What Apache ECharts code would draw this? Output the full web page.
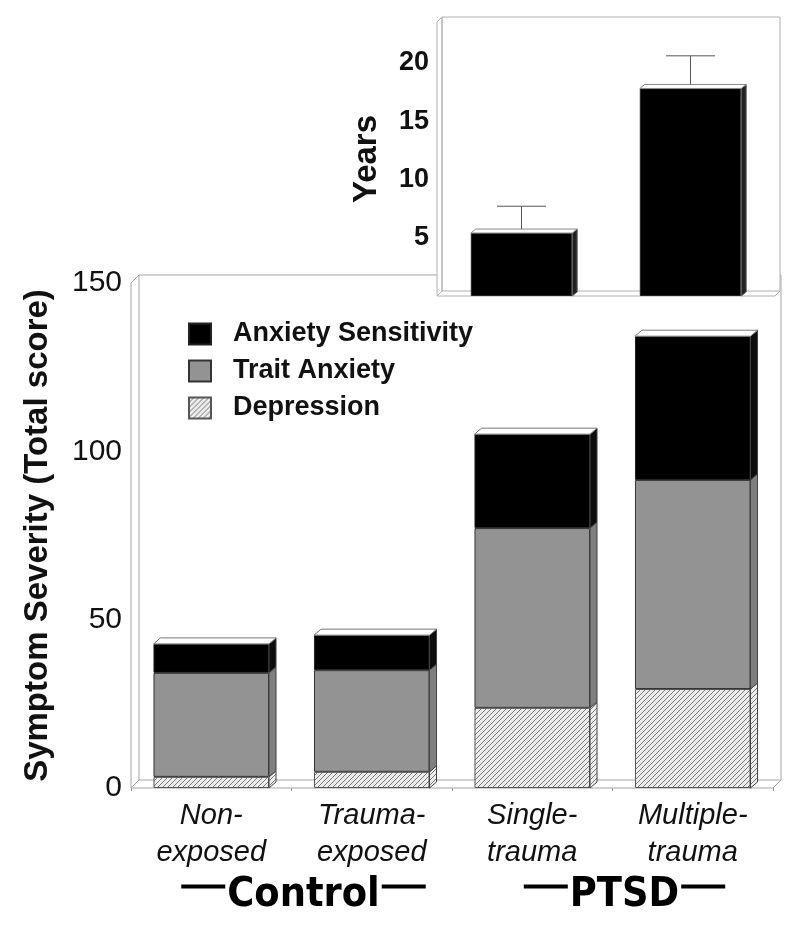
<!DOCTYPE html>
<html>
<head>
<meta charset="utf-8">
<script src="https://cdn.jsdelivr.net/npm/echarts@6/dist/echarts.min.js"></script>
<style>
  html, body { margin: 0; padding: 0; background: #fff; }
  #chart { width: 800px; height: 930px; }
</style>
</head>
<body>
<div id="chart"></div>
<script>
// main chart data (stack order bottom -> top)
const groups = ['Non-\nexposed', 'Trauma-\nexposed', 'Single-\ntrauma', 'Multiple-\ntrauma'];
const groupSets = ['Control', 'PTSD'];
const depression = [3.3, 4.8, 23.8, 29.4];
const traitAnxiety = [30.9, 30.2, 53.4, 62.1];
const anxietySensitivity = [8.6, 10.4, 27.9, 42.7];
const severityTicks = [0, 50, 100, 150];

// inset data
const ptsdGroups = ['Single-trauma', 'Multiple-trauma'];
const chronicityYears = [5.4, 17.8];
const chronicityErr = [2.3, 2.8];
const yearTicks = [5, 10, 15, 20];

const font = 'Liberation Sans, Arial, sans-serif';
const narrow = 'DejaVu Sans Condensed, Liberation Sans Narrow, Liberation Sans, sans-serif';

function makeHatch() {
  const c = document.createElement('canvas');
  c.width = 5; c.height = 5;
  const g = c.getContext('2d');
  g.fillStyle = '#ececec';
  g.fillRect(0, 0, 5, 5);
  g.strokeStyle = '#7a7a7a';
  g.lineWidth = 1;
  g.beginPath();
  g.moveTo(0, 5); g.lineTo(5, 0);
  g.moveTo(-1, 1); g.lineTo(1, -1);
  g.moveTo(4, 6); g.lineTo(6, 4);
  g.stroke();
  return c;
}
const hatchFill = { image: makeHatch(), repeat: 'repeat' };

// walls + floor of the big box
function mainBox(params, api) {
  const cs = params.coordSys;
  const x0 = cs.x, x1 = cs.x + cs.width, yT = cs.y, yB = cs.y + cs.height;
  const d = 8;
  const line = { fill: 'none', stroke: '#a5a5a5', lineWidth: 1 };
  return {
    type: 'group',
    children: [
      { type: 'polyline', shape: { points: [[x0 + d, yT - d], [x1 + d, yT - d], [x1 + d, yB - d]] }, style: line },
      { type: 'polygon', shape: { points: [[x0, yB], [x0, yT], [x0 + d, yT - d], [x0 + d, yB - d]] },
        style: { fill: '#fff', stroke: '#a5a5a5', lineWidth: 1 } },
      { type: 'polygon', shape: { points: [[x0, yB], [x0 + d, yB - d], [x1 + d, yB - d], [x1, yB]] },
        style: { fill: '#fff', stroke: '#a5a5a5', lineWidth: 1 } }
    ]
  };
}

// side + top faces of the stacked bars
function mainFaces(params, api) {
  const DX = 7, DY = 6;
  const i = api.value(0);
  const w = api.size([1, 0])[0] * 0.72;
  const xc = api.coord([i, 0])[0];
  const x0 = xc - w / 2, x1 = xc + w / 2;
  const fills = [hatchFill, '#7f7f7f', '#0d0d0d'];
  const children = [];
  let base = 0;
  for (let k = 0; k < 3; k++) {
    const v = api.value(k + 1);
    const yb = api.coord([i, base])[1];
    const yt = api.coord([i, base + v])[1];
    children.push({
      type: 'polygon',
      shape: { points: [[x1, yb], [x1 + DX, yb - DY], [x1 + DX, yt - DY], [x1, yt]] },
      style: { fill: fills[k], stroke: '#444', lineWidth: 1 }
    });
    base += v;
  }
  const top = api.coord([i, base])[1];
  children.push({
    type: 'polygon',
    shape: { points: [[x0, top], [x0 + DX, top - DY], [x1 + DX, top - DY], [x1, top]] },
    style: { fill: '#fff', stroke: '#777', lineWidth: 1 }
  });
  return { type: 'group', children };
}

// inset box: white panel covering the big box behind it
function insetBox(params, api) {
  const cs = params.coordSys;
  const x0 = cs.x, x1 = cs.x + cs.width, yT = cs.y, yB = cs.y + cs.height;
  const d = 5;
  const st = { fill: 'none', stroke: '#b0b0b0', lineWidth: 1 };
  return {
    type: 'group',
    children: [
      { type: 'polygon', shape: { points: [[x0, yB], [x0, yT], [x0 + d, yT - d], [x1 + d, yT - d], [x1 + d, yB - d], [x1, yB]] },
        style: { fill: '#fff', stroke: 'none' } },
      { type: 'polyline', shape: { points: [[x0 + d, yB - d], [x0 + d, yT - d], [x1 + d, yT - d], [x1 + d, yB - d]] }, style: st },
      { type: 'polygon', shape: { points: [[x0, yB], [x0, yT], [x0 + d, yT - d], [x0 + d, yB - d]] }, style: st },
      { type: 'polygon', shape: { points: [[x0, yB], [x0 + d, yB - d], [x1 + d, yB - d], [x1, yB]] }, style: st }
    ]
  };
}

function insetFaces(params, api) {
  const DX = 5, DY = 4;
  const i = api.value(0), v = api.value(1);
  const w = api.size([1, 0])[0] * 0.6;
  const xc = api.coord([i, 0])[0];
  const x0 = xc - w / 2, x1 = xc + w / 2;
  const yb = api.coord([i, 0])[1], yt = api.coord([i, v])[1];
  return {
    type: 'group',
    children: [
      { type: 'polygon', shape: { points: [[x1, yb], [x1 + DX, yb - DY], [x1 + DX, yt - DY], [x1, yt]] },
        style: { fill: '#222', stroke: '#666', lineWidth: 1 } },
      { type: 'polygon', shape: { points: [[x0, yt], [x0 + DX, yt - DY], [x1 + DX, yt - DY], [x1, yt]] },
        style: { fill: '#fff', stroke: '#888', lineWidth: 1 } }
    ]
  };
}

function errBars(params, api) {
  const i = api.value(0), v = api.value(1), e = api.value(2);
  const p0 = api.coord([i, v]), p1 = api.coord([i, v + e]);
  const hw = api.size([1, 0])[0] * 0.145;
  const st = { stroke: '#555', lineWidth: 1 };
  return {
    type: 'group',
    children: [
      { type: 'line', shape: { x1: p0[0], y1: p0[1] - 4, x2: p1[0], y2: p1[1] }, style: st },
      { type: 'line', shape: { x1: p1[0] - hw, y1: p1[1], x2: p1[0] + hw, y2: p1[1] }, style: st }
    ]
  };
}

const chart = echarts.init(document.getElementById('chart'), null, { renderer: 'canvas' });

chart.setOption({
  animation: false,
  backgroundColor: '#fff',
  textStyle: { fontFamily: font },
  grid: [
    { left: 131, top: 283, width: 642, height: 505, outerBoundsMode: 'none' },
    { left: 437, top: 22, width: 338, height: 274, outerBoundsMode: 'none' }
  ],
  legend: [
    {
      data: ['Anxiety Sensitivity', 'Trait Anxiety', 'Depression'],
      orient: 'vertical', left: 183, top: 315,
      icon: 'rect', itemWidth: 22, itemHeight: 21, itemGap: 9,
      textStyle: { fontFamily: font, fontSize: 27, fontWeight: 'bold', color: '#111', lineHeight: 28, padding: [0, 0, 0, 17] }
    },
    {
      data: ['PTSD Chronicity'],
      left: 457, top: 39,
      icon: 'rect', itemWidth: 14, itemHeight: 14,
      formatter: () => 'PTSD\nChronicity',
      textStyle: { fontFamily: font, fontSize: 28, fontWeight: 'bold', color: '#111', lineHeight: 37, padding: [0, 0, 0, 2] }
    }
  ],
  xAxis: [
    {
      type: 'category', gridIndex: 0, data: groups,
      axisLine: { show: false },
      axisTick: { show: true, length: 3, lineStyle: { color: '#999' } },
      axisLabel: { fontFamily: font, fontSize: 29, fontStyle: 'italic', color: '#111', lineHeight: 37, margin: 9 }
    },
    {
      type: 'category', gridIndex: 0, data: groupSets, position: 'bottom', offset: 70,
      axisLine: { show: false }, axisTick: { show: false },
      axisLabel: {
        margin: 8,
        formatter: v => '{s|}{d|}{t|' + v + '}{d|}',
        rich: {
          s: { width: 24, height: 4 },
          d: { width: 44, height: 4, backgroundColor: '#000' },
          t: { fontFamily: narrow, fontSize: 41, fontWeight: 'bold', color: '#000', lineHeight: 41, padding: [18, 2, 0, 2] }
        }
      }
    },
    {
      type: 'category', gridIndex: 1, data: ptsdGroups,
      axisLine: { show: false }, axisTick: { show: false }, axisLabel: { show: false }
    }
  ],
  yAxis: [
    {
      type: 'value', gridIndex: 0,
      min: severityTicks[0], max: severityTicks[severityTicks.length - 1],
      interval: severityTicks[1] - severityTicks[0],
      name: 'Symptom Severity (Total score)', nameLocation: 'middle', nameRotate: 90, nameGap: 77,
      nameTextStyle: { fontFamily: font, fontSize: 33, fontWeight: 'bold', color: '#111' },
      axisLine: { show: false }, axisTick: { show: false }, splitLine: { show: false },
      axisLabel: { fontFamily: font, fontSize: 30, color: '#111', margin: 9 }
    },
    {
      type: 'value', gridIndex: 1, min: 0, max: 23.5, interval: yearTicks[1] - yearTicks[0],
      name: 'Years', nameLocation: 'middle', nameRotate: 90, nameGap: 54,
      nameTextStyle: { fontFamily: font, fontSize: 33, fontWeight: 'bold', color: '#111' },
      axisLine: { show: false }, axisTick: { show: false }, splitLine: { show: false },
      axisLabel: {
        fontFamily: font, fontSize: 27, fontWeight: 'bold', color: '#111', margin: 8,
        formatter: v => (yearTicks.indexOf(v) >= 0 ? String(v) : '')
      }
    }
  ],
  series: [
    { type: 'custom', name: 'box', xAxisIndex: 0, yAxisIndex: 0, z: 1, silent: true,
      renderItem: mainBox, data: [[0, 0]] },
    { type: 'bar', name: 'Depression', stack: 's', barWidth: '72%', z: 2, data: depression,
      itemStyle: { color: hatchFill, borderColor: '#555', borderWidth: 1 } },
    { type: 'bar', name: 'Trait Anxiety', stack: 's', barWidth: '72%', z: 2, data: traitAnxiety,
      itemStyle: { color: '#939393', borderColor: '#333', borderWidth: 1 } },
    { type: 'bar', name: 'Anxiety Sensitivity', stack: 's', barWidth: '72%', z: 2, data: anxietySensitivity,
      itemStyle: { color: '#000', borderColor: '#222', borderWidth: 1 } },
    { type: 'custom', name: 'faces', xAxisIndex: 0, yAxisIndex: 0, z: 3, silent: true,
      renderItem: mainFaces,
      data: groups.map((g, i) => [i, depression[i], traitAnxiety[i], anxietySensitivity[i]]) },
    { type: 'custom', name: 'insetBox', xAxisIndex: 2, yAxisIndex: 1, z: 5, silent: true,
      renderItem: insetBox, data: [[0, 0]] },
    { type: 'bar', name: 'PTSD Chronicity', xAxisIndex: 2, yAxisIndex: 1, barWidth: '60%', z: 6,
      data: chronicityYears, itemStyle: { color: '#000', borderColor: '#222', borderWidth: 1 } },
    { type: 'custom', name: 'insetFaces', xAxisIndex: 2, yAxisIndex: 1, z: 7, silent: true,
      renderItem: insetFaces, data: chronicityYears.map((v, i) => [i, v]) },
    { type: 'custom', name: 'errors', xAxisIndex: 2, yAxisIndex: 1, z: 7, silent: true,
      renderItem: errBars, data: chronicityYears.map((v, i) => [i, v, chronicityErr[i]]) }
  ]
});
</script>
</body>
</html>
